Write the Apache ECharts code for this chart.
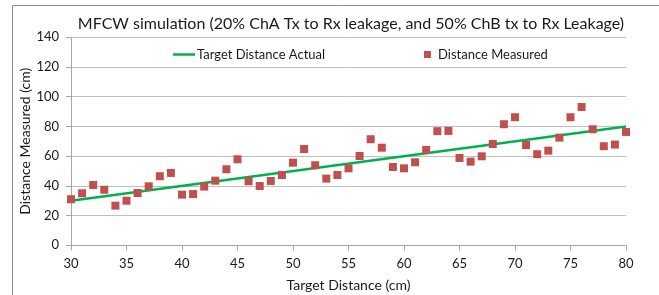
<!DOCTYPE html>
<html>
<head>
<meta charset="utf-8">
<script src="https://cdn.jsdelivr.net/npm/echarts@6/dist/echarts.min.js"></script>
<style>
  html, body { margin: 0; padding: 0; background: #fff; }
  #chart { width: 659px; height: 295px; }
</style>
</head>
<body>
<div id="chart"></div>
<script>
// 数据
const targetDist = [30, 31, 32, 33, 34, 35, 36, 37, 38, 39, 40, 41, 42, 43, 44, 45, 46, 47, 48, 49,
  50, 51, 52, 53, 54, 55, 56, 57, 58, 59, 60, 61, 62, 63, 64, 65, 66, 67, 68, 69,
  70, 71, 72, 73, 74, 75, 76, 77, 78, 79, 80];
const measured = [31, 35, 40.6, 37.4, 26.7, 30, 35.2, 39.7, 46.5, 48.7, 34.1, 34.5, 39.5, 43.5, 51.2, 57.9, 43.1, 39.9, 43.3, 47.3,
  55.6, 64.8, 53.9, 44.9, 47.3, 51.8, 60.1, 71.4, 65.7, 52.7, 51.8, 55.9, 64.2, 76.8, 77, 58.8, 56.3, 59.9, 68.2, 81.5,
  86.2, 67.5, 61.3, 63.7, 72.5, 86.2, 93.1, 78.1, 66.7, 67.8, 76.3];
const actualX = [30, 80];
const actualY = [30, 80];

const FONT = 'Lato';
const chart = echarts.init(document.getElementById('chart'));

chart.setOption({
  backgroundColor: '#fff',
  animation: false,
  textStyle: { fontFamily: FONT },
  title: {
    text: 'MFCW simulation (20% ChA Tx to Rx leakage, and 50% ChB tx to Rx Leakage)',
    left: 346, top: 11, textAlign: 'center',
    textStyle: { fontFamily: FONT, fontSize: 16, fontWeight: 'normal', color: '#1a1a1a' }
  },
  legend: [
    { data: [{ name: 'Target Distance Actual', icon: 'rect' }], left: 168, top: 43, itemWidth: 22, itemHeight: 2.5, itemGap: 0,
      textStyle: { fontFamily: FONT, fontSize: 13, color: '#1a1a1a', padding: [0, 0, 0, -3] } },
    { data: [{ name: 'Distance Measured', icon: 'rect' }], left: 419, top: 43, itemWidth: 7, itemHeight: 7, itemGap: 0,
      textStyle: { fontFamily: FONT, fontSize: 13, color: '#1a1a1a', padding: [0, 0, 0, 2] } }
  ],
  grid: { left: 71, right: 33, top: 37.3, bottom: 49.7, containLabel: false, outerBoundsMode: 'none' },
  xAxis: {
    type: 'value', min: 30, max: 80, interval: 5,
    name: 'Target Distance (cm)', nameLocation: 'middle', nameGap: 33, nameMoveOverlap: false,
    nameTextStyle: { fontFamily: FONT, fontSize: 14, color: '#1a1a1a' },
    axisLine: { show: true, onZero: false, lineStyle: { color: '#a6a6a6' } },
    axisTick: { show: true, length: 5, lineStyle: { color: '#a6a6a6' } },
    axisLabel: { fontFamily: FONT, fontSize: 13, color: '#1a1a1a', margin: 12 },
    splitLine: { show: false }
  },
  yAxis: {
    type: 'value', min: 0, max: 140, interval: 20,
    name: 'Distance Measured (cm)', nameLocation: 'middle', nameGap: 39, nameMoveOverlap: false,
    nameTextStyle: { fontFamily: FONT, fontSize: 14, color: '#1a1a1a' },
    axisLine: { show: true, lineStyle: { color: '#a6a6a6' } },
    axisTick: { show: true, length: 5, lineStyle: { color: '#a6a6a6' } },
    axisLabel: { fontFamily: FONT, fontSize: 13, color: '#1a1a1a', margin: 12 },
    splitLine: { lineStyle: { color: '#bfbfbf' } }
  },
  graphic: [
    { type: 'rect', shape: { x: 12.5, y: 5.5, width: 700, height: 400 }, style: { fill: 'none', stroke: '#8c8c8c', lineWidth: 1 }, silent: true, z: -1 }
  ],
  series: [
    { name: 'Target Distance Actual', type: 'line', data: actualX.map((x, i) => [x, actualY[i]]),
      symbol: 'none', lineStyle: { color: '#00b050', width: 2.5 }, itemStyle: { color: '#00b050' }, z: 2 },
    { name: 'Distance Measured', type: 'scatter', data: targetDist.map((x, i) => [x, measured[i]]),
      symbol: 'rect', symbolSize: 8, itemStyle: { color: '#c0504d', opacity: 1 }, z: 3 }
  ]
});
</script>
</body>
</html>
